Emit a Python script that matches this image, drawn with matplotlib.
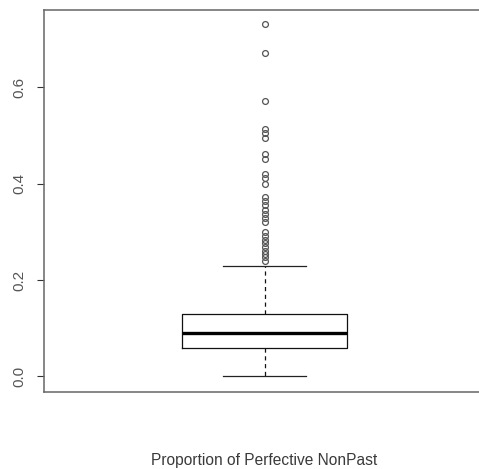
import matplotlib
matplotlib.use("Agg")
import matplotlib.pyplot as plt

# Five-number summary of the proportion of perfective non-past forms
whisker_low = 0.0
q1 = 0.058
median = 0.0905
q3 = 0.129
whisker_high = 0.229

# Values lying beyond the upper whisker
outliers = [0.732, 0.671, 0.572,
            0.513, 0.505, 0.495,
            0.461, 0.451,
            0.421, 0.411, 0.400,
            0.372, 0.364, 0.355, 0.346, 0.337, 0.329, 0.321,
            0.300, 0.291, 0.283, 0.276, 0.268, 0.261, 0.254, 0.247, 0.240]

y_ticks = [0.0, 0.2, 0.4, 0.6]
y_tick_labels = ["0.0", "0.2", "0.4", "0.6"]
x_label = "Proportion of Perfective NonPast"

plt.rcParams["font.family"] = ["Liberation Sans", "DejaVu Sans"]
plt.rcParams["lines.scale_dashes"] = False

W, H = 479, 469
fig = plt.figure(figsize=(W / 100, H / 100), dpi=100)
left, right = 44 / W, 485 / W
bottom, top = (H - 391.7) / H, (H - 9.7) / H
ax = fig.add_axes([left, bottom, right - left, top - bottom])

stats = [dict(med=median, q1=q1, q3=q3, whislo=whisker_low, whishi=whisker_high,
              fliers=outliers)]
ax.bxp(stats, positions=[1], widths=0.8, showfliers=True, patch_artist=False,
       boxprops=dict(color="#111111", linewidth=0.9),
       medianprops=dict(color="#000000", linewidth=2.4, solid_capstyle="butt"),
       whiskerprops=dict(color="#111111", linewidth=0.9, linestyle=(0, (3.0, 2.6))),
       capprops=dict(color="#222222", linewidth=0.9),
       capwidths=0.4,
       flierprops=dict(marker="o", markersize=4.2, markerfacecolor="none",
                       markeredgecolor="#555555", markeredgewidth=0.9, linestyle="none"))

half = 1.0756
ax.set_xlim(1 - half, 1 + half)
ax.set_ylim(-0.032, 0.7614)

ax.set_xticks([])
ax.set_yticks(y_ticks)
ax.set_yticklabels(y_tick_labels, rotation=90, va="center", color="#555555", fontsize=11)
ax.tick_params(axis="y", length=5.2, width=0.8, color="#333333", pad=7.5)

for side in ("left", "bottom", "top"):
    ax.spines[side].set_color("#666666")
    ax.spines[side].set_linewidth(1.1)
ax.spines["right"].set_visible(False)

fig.text(264.5 / W, (H - 460.5) / H, x_label, ha="center", va="center",
         fontsize=11.2, color="#3a3a3a")

fig.savefig("out.png", dpi=100)
